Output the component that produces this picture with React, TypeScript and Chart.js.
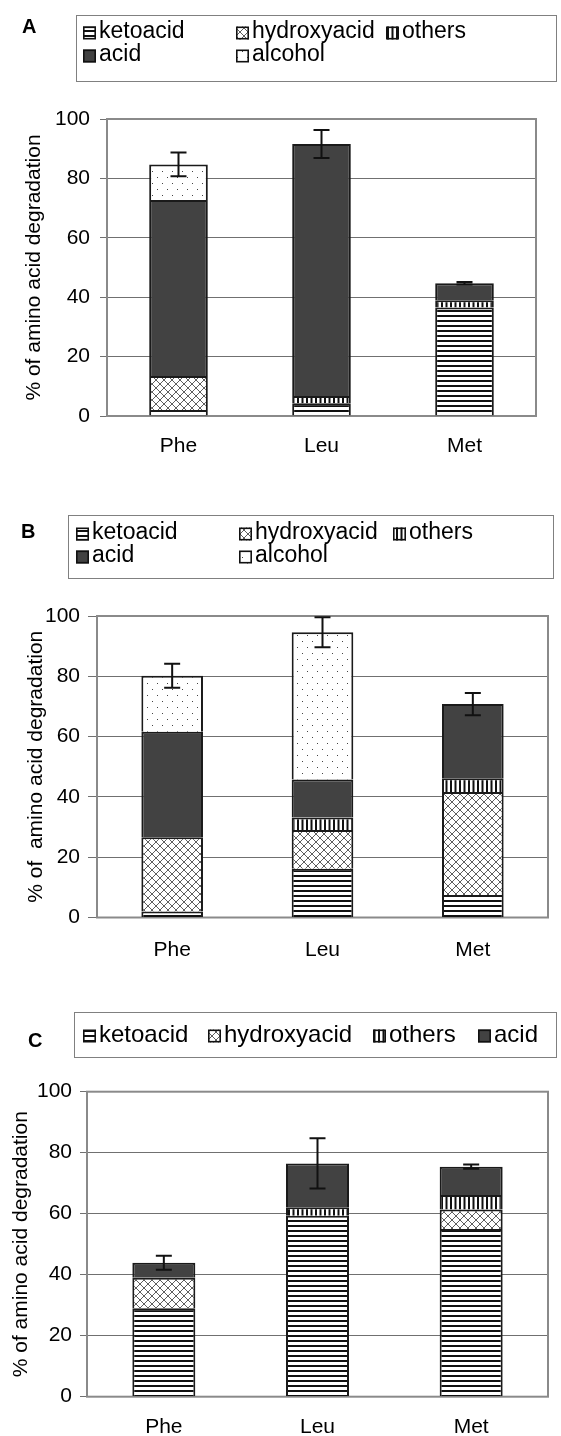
import React, { useEffect, useRef } from 'react';
import { Chart, registerables } from 'chart.js';

Chart.register(...registerables);

const FONT = "'Liberation Sans', Arial, Helvetica, sans-serif";

// ---------- data ----------
const categories = ['Phe', 'Leu', 'Met'];
const seriesNames = ['ketoacid', 'hydroxyacid', 'others', 'acid', 'alcohol'];
const yTickValues = [0, 20, 40, 60, 80, 100];

// Panel A
const aKetoacid = [2.0, 4.3, 36.5];
const aHydroxyacid = [11.5, 0, 0];
const aOthers = [0, 2.4, 2.5];
const aAcid = [59.2, 84.9, 5.7];
const aAlcohol = [12.0, 0, 0];
const aError = [4.0, 4.7, 0.4];

// Panel B
const bKetoacid = [2.0, 16.2, 7.5];
const bHydroxyacid = [24.6, 12.8, 34.1];
const bOthers = [0, 4.2, 4.6];
const bAcid = [35.0, 12.6, 24.6];
const bAlcohol = [18.6, 48.8, 0];
const bError = [4.0, 5.0, 3.7];

// Panel C
const cKetoacid = [29.0, 59.3, 55.0];
const cHydroxyacid = [10.0, 0, 6.4];
const cOthers = [0, 2.8, 4.7];
const cAcid = [4.9, 14.4, 9.3];
const cError = [2.3, 8.2, 0.7];

// ---------- patterns ----------
function makeTile(w: number, h: number, draw: (c: CanvasRenderingContext2D) => void) {
  const t = document.createElement('canvas');
  t.width = w;
  t.height = h;
  const c = t.getContext('2d') as CanvasRenderingContext2D;
  c.fillStyle = '#ffffff';
  c.fillRect(0, 0, w, h);
  draw(c);
  return t;
}

function makeFills(ctx: CanvasRenderingContext2D): Record<string, any> {
  const keto = makeTile(4, 5, (c) => {
    c.fillStyle = '#111111';
    c.fillRect(0, 0, 4, 2);
  });
  const hydroxy = makeTile(8, 8, (c) => {
    c.strokeStyle = '#5e5e5e';
    c.lineWidth = 1;
    c.beginPath();
    c.moveTo(-1, -1);
    c.lineTo(9, 9);
    c.moveTo(-1, 9);
    c.lineTo(9, -1);
    c.stroke();
  });
  const others = makeTile(9, 4, (c) => {
    c.fillStyle = '#111111';
    c.fillRect(0, 0, 2, 4);
    c.fillRect(4.5, 0, 2, 4);
  });
  const alcohol = makeTile(10, 12, (c) => {
    c.fillStyle = '#444444';
    c.fillRect(2, 3, 1, 1);
    c.fillRect(7, 9, 1, 1);
  });
  return {
    ketoacid: ctx.createPattern(keto, 'repeat'),
    hydroxyacid: ctx.createPattern(hydroxy, 'repeat'),
    others: ctx.createPattern(others, 'repeat'),
    acid: '#424242',
    alcohol: ctx.createPattern(alcohol, 'repeat'),
  };
}

// ---------- panel specs (layout) ----------
type Spec = {
  id: string;
  top: number;
  height: number;
  plot: { left: number; right: number; top: number; bottom: number };
  titleCenterX: number;
  tickLen: number;
  tickPad: number;
  xLabelPad: number;
  title: string;
  series: number[][];
  names: string[];
  errors: number[];
  legend: { box: number[]; letter: number[]; items: number[][]; font: number };
};

const panels: Spec[] = [
  {
    id: 'A',
    top: 0,
    height: 470,
    plot: { left: 107, right: 536, top: 119, bottom: 416 },
    titleCenterX: 34,
    tickLen: 7,
    tickPad: 10,
    xLabelPad: 17.5,
    title: '% of amino acid degradation',
    series: [aKetoacid, aHydroxyacid, aOthers, aAcid, aAlcohol],
    names: seriesNames,
    errors: aError,
    legend: {
      box: [76, 15, 480, 66],
      letter: [22, 33],
      items: [[83, 32], [236, 32], [386, 32], [83, 55], [236, 55]],
      font: 23,
    },
  },
  {
    id: 'B',
    top: 470,
    height: 490,
    plot: { left: 97, right: 548, top: 616, bottom: 917.5 },
    titleCenterX: 36,
    tickLen: 9,
    tickPad: 8,
    xLabelPad: 20.5,
    title: '% of  amino acid degradation',
    series: [bKetoacid, bHydroxyacid, bOthers, bAcid, bAlcohol],
    names: seriesNames,
    errors: bError,
    legend: {
      box: [68, 515, 485, 63],
      letter: [21, 538],
      items: [[76, 533], [239, 533], [393, 533], [76, 556], [239, 556]],
      font: 23,
    },
  },
  {
    id: 'C',
    top: 960,
    height: 476,
    plot: { left: 87, right: 548, top: 1091.7, bottom: 1396.7 },
    titleCenterX: 21,
    tickLen: 7,
    tickPad: 8,
    xLabelPad: 17.5,
    title: '% of amino acid degradation',
    series: [cKetoacid, cHydroxyacid, cOthers, cAcid],
    names: seriesNames.slice(0, 4),
    errors: cError,
    legend: {
      box: [74, 1012, 482, 45],
      letter: [28, 1047],
      items: [[83, 1035], [208, 1035], [373, 1035], [478, 1035]],
      font: 24,
    },
  },
];

// ---------- plugins ----------
const framePlugin = {
  id: 'frame',
  beforeDatasetsDraw(chart: any) {
    const { ctx, chartArea } = chart;
    ctx.save();
    ctx.strokeStyle = '#8a8a8a';
    ctx.lineWidth = 2;
    ctx.strokeRect(chartArea.left, chartArea.top, chartArea.right - chartArea.left, chartArea.bottom - chartArea.top);
    ctx.restore();
  },
};

const errorPlugin = {
  id: 'errorBars',
  afterDatasetsDraw(chart: any, _args: any, opts: any) {
    const errors: number[] = opts.errors || [];
    const { ctx } = chart;
    const xs = chart.scales.x;
    const ys = chart.scales.y;
    ctx.save();
    ctx.strokeStyle = '#111111';
    ctx.lineWidth = 2;
    categories.forEach((_, i) => {
      let total = 0;
      chart.data.datasets.forEach((d: any) => (total += d.data[i] || 0));
      const e = errors[i] || 0;
      const x = xs.getPixelForValue(i);
      const y1 = ys.getPixelForValue(total + e);
      const y2 = ys.getPixelForValue(total - e);
      const cap = 8;
      ctx.beginPath();
      ctx.moveTo(x, y1);
      ctx.lineTo(x, y2);
      ctx.moveTo(x - cap, y1);
      ctx.lineTo(x + cap, y1);
      ctx.moveTo(x - cap, y2);
      ctx.lineTo(x + cap, y2);
      ctx.stroke();
    });
    ctx.restore();
  },
};

const legendPlugin = {
  id: 'boxLegend',
  afterDraw(chart: any, _args: any, opts: any) {
    const spec: Spec = opts.spec;
    if (!spec) return;
    const { ctx } = chart;
    const off = spec.top;
    const L = spec.legend;
    ctx.save();
    // panel letter
    ctx.fillStyle = '#000';
    ctx.font = `bold 20px ${FONT}`;
    ctx.textAlign = 'left';
    ctx.textBaseline = 'alphabetic';
    ctx.fillText(spec.id, L.letter[0], L.letter[1] - off);
    // box
    ctx.strokeStyle = '#808080';
    ctx.lineWidth = 1;
    ctx.strokeRect(L.box[0] + 0.5, L.box[1] - off + 0.5, L.box[2], L.box[3]);
    // items
    ctx.font = `${L.font}px ${FONT}`;
    ctx.textBaseline = 'middle';
    chart.data.datasets.forEach((d: any, i: number) => {
      const pos = L.items[i];
      if (!pos) return;
      const ix = pos[0];
      const iy = pos[1] - off;
      const s = 13;
      ctx.fillStyle = d.backgroundColor;
      ctx.fillRect(ix, iy - s / 2 + 1, s, s);
      ctx.strokeStyle = '#111';
      ctx.lineWidth = 1.6;
      ctx.strokeRect(ix + 0.8, iy - s / 2 + 1.8, s - 1.6, s - 1.6);
      ctx.fillStyle = '#000';
      ctx.fillText(d.label, ix + s + 3, iy);
    });
    ctx.restore();
  },
};

function buildConfig(spec: Spec, ctx: CanvasRenderingContext2D): any {
  const fills = makeFills(ctx);
  const plotTopLocal = spec.plot.top - spec.top;
  const plotBottomLocal = spec.plot.bottom - spec.top;
  return {
    type: 'bar',
    data: {
      labels: categories,
      datasets: spec.series.map((vals, i) => ({
        label: spec.names[i],
        data: vals,
        backgroundColor: fills[spec.names[i]],
        borderColor: '#1a1a1a',
        borderWidth: 2,
        borderSkipped: 'start',
        barPercentage: 0.41,
        categoryPercentage: 1,
      })),
    },
    options: {
      animation: false,
      responsive: false,
      devicePixelRatio: 1,
      events: [],
      layout: {
        padding: { left: 0, right: 561 - spec.plot.right, top: plotTopLocal, bottom: 0 },
      },
      plugins: {
        legend: { display: false },
        tooltip: { enabled: false },
        title: { display: false },
        errorBars: { errors: spec.errors },
        boxLegend: { spec },
      },
      scales: {
        x: {
          stacked: true,
          grid: { display: false, drawTicks: false },
          border: { display: false },
          ticks: { color: '#000', font: { family: FONT, size: 21 }, padding: spec.xLabelPad },
          afterFit: (s: any) => {
            s.height = spec.height - plotBottomLocal;
          },
        },
        y: {
          stacked: true,
          min: 0,
          max: 100,
          afterBuildTicks: (s: any) => {
            s.ticks = yTickValues.map((v) => ({ value: v }));
          },
          ticks: { color: '#000', font: { family: FONT, size: 21 }, padding: spec.tickPad },
          grid: { color: '#707070', lineWidth: 1, drawTicks: true, tickLength: spec.tickLen },
          border: { display: false },
          title: {
            display: true,
            text: spec.title,
            color: '#000',
            font: { family: FONT, size: 21 },
            padding: { top: spec.titleCenterX - 12.6, bottom: 0 },
          },
          afterFit: (s: any) => {
            s.width = spec.plot.left;
          },
        },
      },
    },
    plugins: [framePlugin, errorPlugin, legendPlugin],
  };
}

function Panel({ spec }: { spec: Spec }) {
  const ref = useRef<HTMLCanvasElement | null>(null);
  useEffect(() => {
    const canvas = ref.current as HTMLCanvasElement;
    const ctx = canvas.getContext('2d') as CanvasRenderingContext2D;
    const chart = new Chart(canvas, buildConfig(spec, ctx));
    return () => chart.destroy();
  }, [spec]);
  return (
    <canvas
      ref={ref}
      width={561}
      height={spec.height}
      style={{ position: 'absolute', left: 0, top: spec.top, width: 561, height: spec.height, display: 'block' }}
    />
  );
}

export default function App() {
  return (
    <div style={{ position: 'absolute', left: 0, top: 0, width: 561, height: 1436, background: '#ffffff', overflow: 'hidden' }}>
      {panels.map((p) => (
        <Panel key={p.id} spec={p} />
      ))}
    </div>
  );
}
